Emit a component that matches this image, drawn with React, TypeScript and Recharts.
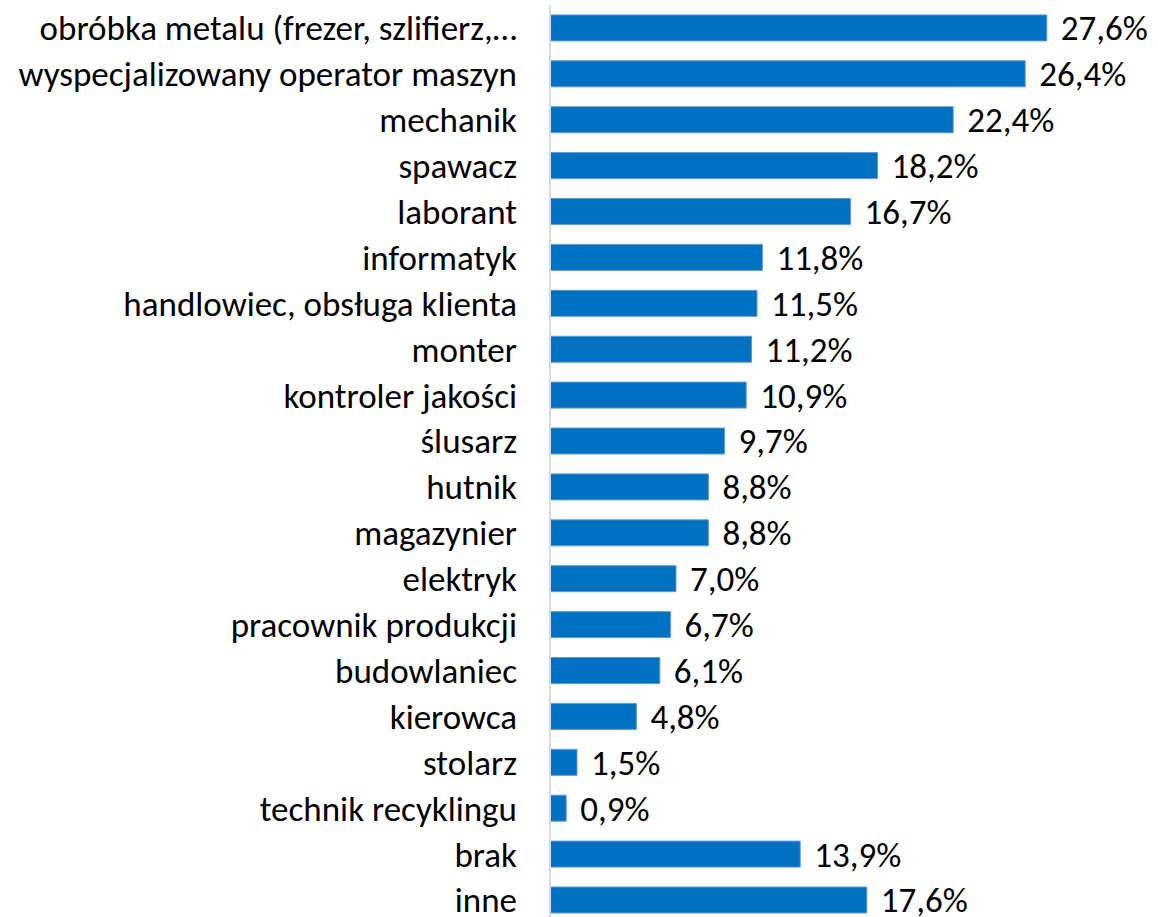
import React from "react";
import { BarChart, Bar, XAxis, YAxis, LabelList } from "recharts";

const categories = [
  "obróbka metalu (frezer, szlifierz,…",
  "wyspecjalizowany operator maszyn",
  "mechanik",
  "spawacz",
  "laborant",
  "informatyk",
  "handlowiec, obsługa klienta",
  "monter",
  "kontroler jakości",
  "ślusarz",
  "hutnik",
  "magazynier",
  "elektryk",
  "pracownik produkcji",
  "budowlaniec",
  "kierowca",
  "stolarz",
  "technik recyklingu",
  "brak",
  "inne",
];

const values = [27.6, 26.4, 22.4, 18.2, 16.7, 11.8, 11.5, 11.2, 10.9, 9.7, 8.8, 8.8, 7.0, 6.7, 6.1, 4.8, 1.5, 0.9, 13.9, 17.6];

const data = categories.map((name, i) => ({ name, value: values[i] }));

const FONT = "Calibri, Carlito, Lato, 'Open Sans', sans-serif";

const fmt = (v: any) => `${Number(v).toFixed(1).replace(".", ",")}%`;

export default function App() {
  return (
    <div style={{ position: "absolute", left: 0, top: 0, width: 1158, height: 917, overflow: "hidden", background: "#fff" }}>
      <BarChart
        width={1158}
        height={923}
        data={data}
        layout="vertical"
        margin={{ top: 5, right: 68, bottom: 0, left: 0 }}
        barCategoryGap="21.6%"
      >
        <XAxis type="number" domain={[0, 30]} hide />
        <YAxis
          type="category"
          dataKey="name"
          width={550}
          interval={0}
          tickLine={false}
          tickSize={0}
          tickMargin={33}
          axisLine={{ stroke: "#D9D9D9", strokeWidth: 2 }}
          tick={{ fontSize: 35, fill: "#000", fontFamily: FONT }}
        />
        <Bar dataKey="value" fill="#0070C0" stroke="#5B9BD5" strokeWidth={1} isAnimationActive={false}>
          <LabelList
            dataKey="value"
            position="right"
            offset={14}
            formatter={fmt}
            style={{ fontSize: 35, fill: "#000", fontFamily: FONT }}
          />
        </Bar>
      </BarChart>
    </div>
  );
}
